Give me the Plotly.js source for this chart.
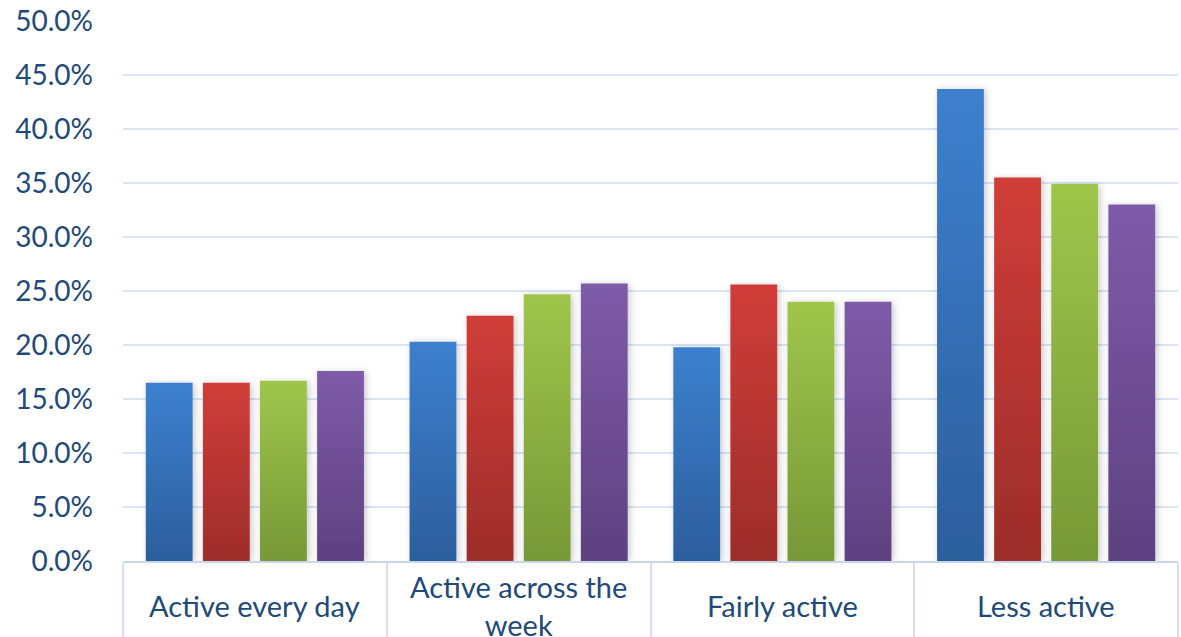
<!DOCTYPE html>
<html>
<head>
<meta charset="utf-8">
<script src="https://cdn.plot.ly/plotly-3.0.1.min.js"></script>
<style>
  html, body { margin: 0; padding: 0; background: #ffffff; }
  #chart { width: 1181px; height: 637px; }
</style>
</head>
<body>
<div id="chart"></div>
<script>
// Activity level categories and the label text shown under each group
const categories = ['Active every day', 'Active across the week', 'Fairly active', 'Less active'];
const categoryLabels = ['Active every day', 'Active across the<br>week', 'Fairly active', 'Less active'];

// Share of respondents (%) per series
const series1 = [16.5, 20.3, 19.8, 43.7];
const series2 = [16.5, 22.7, 25.6, 35.5];
const series3 = [16.7, 24.7, 24.0, 34.9];
const series4 = [17.6, 25.7, 24.0, 33.0];

const seriesNames = ['Series 1', 'Series 2', 'Series 3', 'Series 4'];
const seriesValues = [series1, series2, series3, series4];

// Top and bottom colour of each series' vertical gradient
const gradientTop = ['#3D80CF', '#D03D39', '#9EC64B', '#7E5BA9'];
const gradientBottom = ['#2C5E9C', '#9C2D2A', '#779837', '#5E4180'];

const textColor = '#21497A';
const fontFamily = 'Lato, "Open Sans", sans-serif';

const traces = seriesValues.map((vals, i) => ({
  type: 'bar',
  name: seriesNames[i],
  x: categories,
  y: vals,
  marker: { color: gradientTop[i], line: { width: 0 } },
  hoverinfo: 'skip',
  showlegend: false
}));

const annotations = categories.map((c, i) => ({
  x: c,
  xref: 'x',
  y: -0.083,
  yref: 'paper',
  yanchor: 'middle',
  xanchor: 'center',
  text: categoryLabels[i],
  showarrow: false,
  font: { family: fontFamily, size: 29, color: textColor }
}));

const layout = {
  width: 1181,
  height: 637,
  margin: { l: 123, r: 3, t: 21, b: 76, pad: 0 },
  paper_bgcolor: '#ffffff',
  plot_bgcolor: '#ffffff',
  barmode: 'group',
  bargap: 0.134,
  bargroupgap: 0.18,
  font: { family: fontFamily, color: textColor },
  xaxis: {
    type: 'category',
    showline: true,
    linecolor: '#C8D5EA',
    linewidth: 2,
    showgrid: false,
    ticks: 'outside',
    tickson: 'boundaries',
    ticklen: 80,
    tickwidth: 2,
    tickcolor: '#D5E0F1',
    showticklabels: false,
    fixedrange: true
  },
  yaxis: {
    range: [0, 50],
    dtick: 5,
    tick0: 0,
    tickformat: '.1f',
    ticksuffix: '%',
    showgrid: true,
    gridcolor: '#D9E4F4',
    gridwidth: 2,
    zeroline: false,
    showline: false,
    ticks: '',
    ticklabelstandoff: 29,
    tickfont: { family: fontFamily, size: 28, color: textColor },
    fixedrange: true
  },
  annotations: annotations
};

Plotly.newPlot('chart', traces, layout, { displayModeBar: false, staticPlot: true }).then(gd => {
  // Vertical gradients and a soft shadow for the bars
  const svgNS = 'http://www.w3.org/2000/svg';
  const svg = gd.querySelector('svg.main-svg');
  let defs = svg.querySelector('defs');
  if (!defs) { defs = document.createElementNS(svgNS, 'defs'); svg.insertBefore(defs, svg.firstChild); }

  const filter = document.createElementNS(svgNS, 'filter');
  filter.setAttribute('id', 'barShadow');
  filter.setAttribute('x', '-30%');
  filter.setAttribute('y', '-10%');
  filter.setAttribute('width', '160%');
  filter.setAttribute('height', '120%');
  const shadow = document.createElementNS(svgNS, 'feDropShadow');
  shadow.setAttribute('dx', '2');
  shadow.setAttribute('dy', '1');
  shadow.setAttribute('stdDeviation', '3.5');
  shadow.setAttribute('flood-color', '#000000');
  shadow.setAttribute('flood-opacity', '0.22');
  filter.appendChild(shadow);
  defs.appendChild(filter);

  gradientTop.forEach((top, i) => {
    const g = document.createElementNS(svgNS, 'linearGradient');
    g.setAttribute('id', 'barGrad' + i);
    g.setAttribute('x1', '0'); g.setAttribute('y1', '0');
    g.setAttribute('x2', '0'); g.setAttribute('y2', '1');
    const s1 = document.createElementNS(svgNS, 'stop');
    s1.setAttribute('offset', '0'); s1.setAttribute('stop-color', top);
    const s2 = document.createElementNS(svgNS, 'stop');
    s2.setAttribute('offset', '1'); s2.setAttribute('stop-color', gradientBottom[i]);
    g.appendChild(s1); g.appendChild(s2);
    defs.appendChild(g);
  });

  gd.querySelectorAll('.barlayer .trace').forEach((tr, i) => {
    tr.querySelectorAll('.point path').forEach(p => {
      p.style.fill = 'url(#barGrad' + i + ')';
      p.setAttribute('filter', 'url(#barShadow)');
    });
  });
});
</script>
</body>
</html>
